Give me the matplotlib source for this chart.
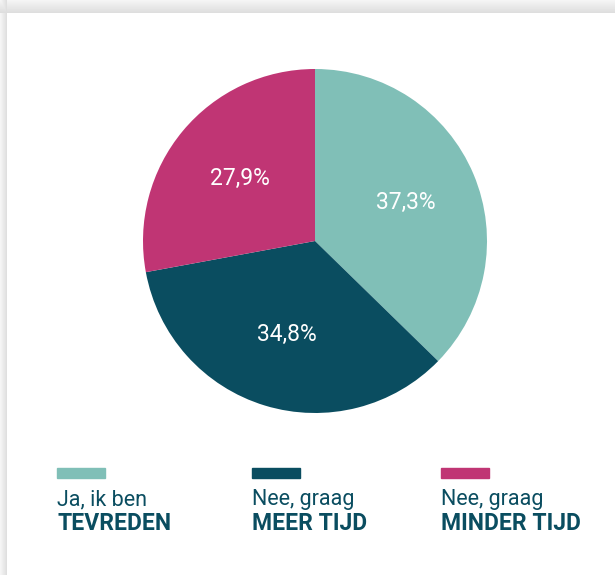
import numpy as np
import matplotlib
matplotlib.use("Agg")
import matplotlib.pyplot as plt

# ----- data -----
LABELS_TOP = ["Ja, ik ben", "Nee, graag", "Nee, graag"]
LABELS_BOLD = ["TEVREDEN", "MEER TIJD", "MINDER TIJD"]
SHARES = [37.3, 34.8, 27.9]
COLORS = ["#80bfb7", "#0a4d60", "#c03574"]
TEXT_COLOR = "#0a4d60"

W, H = 615, 575
fig = plt.figure(figsize=(W / 100, H / 100), dpi=100)
fig.patch.set_facecolor("white")

# ----- card shadow (top and left edges) -----
bg = fig.add_axes([0, 0, 1, 1], zorder=-10)
bg.set_xlim(0, W)
bg.set_ylim(H, 0)
bg.axis("off")
yy, xx = np.mgrid[0:H, 0:W]
top = np.clip((13 - yy) / 13.0, 0, 1)
left = np.clip((7 - xx) / 7.0, 0, 1)
shade = np.where(yy < 13, 0.86 + 0.10 * top, 1.0)
shade = np.minimum(shade, np.where(xx < 7, 0.86 + 0.10 * left, 1.0))
bg.imshow(shade, cmap="gray", vmin=0, vmax=1, extent=[0, W, H, 0], aspect="auto")

# ----- pie -----
cx, cy, r = 315, 241, 172
ax = fig.add_axes([(cx - r) / W, (H - cy - r) / H, 2 * r / W, 2 * r / H])
wedges, texts, autotexts = ax.pie(
    SHARES, colors=COLORS, startangle=90, counterclock=False,
    autopct=lambda p: f"{p:.1f}%".replace(".", ","), pctdistance=0.57,
    wedgeprops=dict(linewidth=0),
    textprops=dict(color="white", fontsize=16.5, family=["Roboto", "DejaVu Sans"]),
)
ax.set_xlim(-1, 1)
ax.set_ylim(-1, 1)
ax.set_aspect("equal")
ax.axis("off")

# ----- legend -----
xs = [57, 252, 441]
for x, c, t1, t2 in zip(xs, COLORS, LABELS_TOP, LABELS_BOLD):
    fig.patches.append(plt.Rectangle((x / W, 1 - 478 / H), 48 / W, 10 / H,
                                     transform=fig.transFigure, color=c))
    fig.text(x / W, 1 - 505 / H, t1, color=TEXT_COLOR, fontsize=15.5,
             family=["Roboto", "DejaVu Sans"], va="baseline")
    fig.text(x / W, 1 - 530 / H, t2, color=TEXT_COLOR, fontsize=16.5,
             fontweight="bold", family=["Roboto", "DejaVu Sans"], va="baseline")

fig.savefig("out.png", dpi=100)
